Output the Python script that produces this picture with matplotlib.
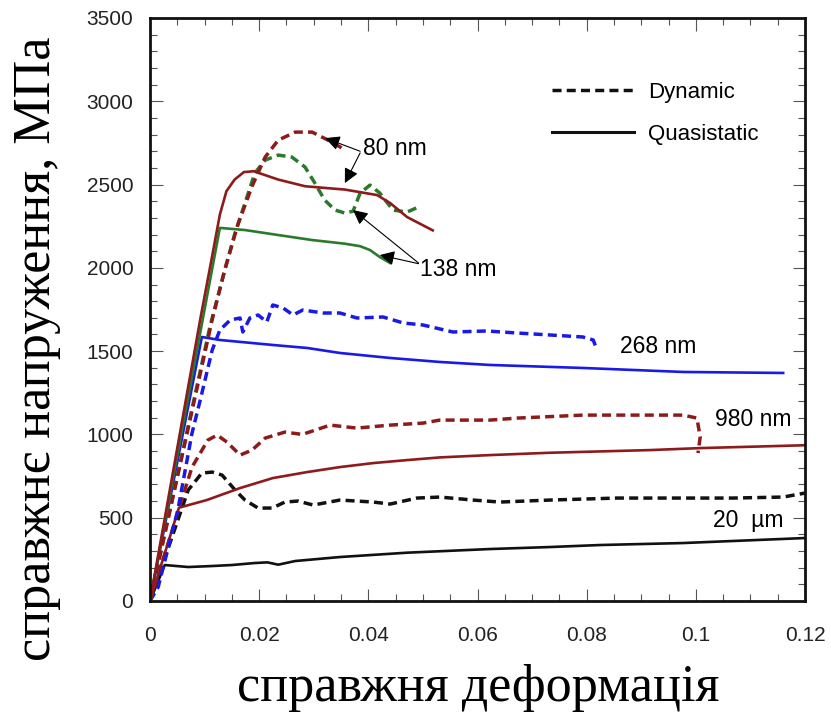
import numpy as np
import matplotlib
matplotlib.use("Agg")
import matplotlib.pyplot as plt
from matplotlib.lines import Line2D
from matplotlib.ticker import MultipleLocator, FixedLocator, FixedFormatter

# --- data (true strain, true stress MPa) ---
q80_e = [0, 0.0092, 0.0115, 0.0128, 0.0140, 0.0155, 0.0172, 0.0190, 0.0235, 0.0284,
         0.0320, 0.0357, 0.0416, 0.0440, 0.0471, 0.0518]
q80_s = [0, 1690, 2090, 2320, 2460, 2530, 2575, 2580, 2530, 2490,
         2480, 2470, 2437, 2389, 2305, 2225]

d80_e = [0, 0.0114, 0.0137, 0.0161, 0.0187, 0.0211, 0.0235, 0.0266, 0.0297, 0.0326, 0.0352]
d80_s = [0, 1690, 1990, 2260, 2490, 2665, 2767, 2815, 2815, 2767, 2719]

q138_e = [0, 0.0128, 0.0174, 0.0235, 0.0297, 0.0357, 0.0385, 0.0403, 0.0421, 0.0440]
q138_s = [0, 2240, 2227, 2197, 2167, 2145, 2130, 2107, 2065, 2029]

d138_e = [0, 0.0110, 0.0135, 0.0155, 0.0174, 0.0192, 0.0211, 0.0235, 0.0260, 0.0284,
          0.0302, 0.0320, 0.0339, 0.0357, 0.0372, 0.0385, 0.0403, 0.0421, 0.0445, 0.0471, 0.0495]
d138_s = [0, 1650, 1960, 2200, 2389, 2569, 2647, 2677, 2665, 2605,
          2509, 2407, 2347, 2329, 2340, 2449, 2497, 2449, 2347, 2335, 2370]

q268_e = [0, 0.0095, 0.0128, 0.0225, 0.0288, 0.0348, 0.0440, 0.0531, 0.0623, 0.0793, 0.0977, 0.1160]
q268_s = [0, 1585, 1567, 1537, 1519, 1489, 1459, 1435, 1417, 1399, 1375, 1369]

d268_e = [0, 0.0015, 0.0051, 0.0077, 0.0092, 0.0114, 0.0128, 0.0147, 0.0165, 0.0170,
          0.0183, 0.0198, 0.0214, 0.0225, 0.0244, 0.0262, 0.0280, 0.0317, 0.0348, 0.0379,
          0.0427, 0.0464, 0.0500, 0.0555, 0.0617, 0.0672, 0.0733, 0.0793, 0.0812, 0.0819]
d268_s = [0, 84, 546, 1008, 1206, 1507, 1627, 1687, 1699, 1615,
          1699, 1717, 1675, 1777, 1759, 1717, 1747, 1729, 1729, 1699,
          1705, 1669, 1657, 1615, 1621, 1609, 1597, 1585, 1567, 1507]

q980_e = [0, 0.0053, 0.0104, 0.0165, 0.0225, 0.0288, 0.0348, 0.0409, 0.0471, 0.0531,
          0.0623, 0.0733, 0.0916, 0.1008, 0.1200]
q980_s = [0, 560, 606, 678, 738, 774, 804, 828, 846, 862,
          876, 890, 906, 918, 935]

d980_e = [0, 0.0077, 0.0106, 0.0123, 0.0141, 0.0165, 0.0187, 0.0211, 0.0247, 0.0279,
          0.0330, 0.0379, 0.0440, 0.0500, 0.0531, 0.0623, 0.0672, 0.0793, 0.0916, 0.0977,
          0.1002, 0.1008, 0.1004]
d980_s = [0, 804, 966, 996, 954, 876, 906, 978, 1014, 1000,
          1056, 1038, 1056, 1068, 1086, 1086, 1098, 1116, 1116, 1116,
          1098, 984, 888]

q20_e = [0, 0.0027, 0.0070, 0.0114, 0.0150, 0.0192, 0.0215, 0.0235, 0.0266, 0.0348,
         0.0471, 0.0623, 0.0733, 0.0824, 0.0977, 0.1200]
q20_s = [0, 216, 204, 210, 216, 228, 232, 218, 240, 264,
         290, 312, 324, 336, 348, 378]

d20_e = [0, 0.0070, 0.0095, 0.0114, 0.0132, 0.0156, 0.0174, 0.0198, 0.0224, 0.0247,
         0.0271, 0.0299, 0.0348, 0.0409, 0.0440, 0.0489, 0.0531, 0.0592, 0.0641, 0.0733,
         0.0856, 0.0947, 0.1068, 0.1160, 0.1200]
d20_s = [0, 666, 768, 774, 756, 666, 606, 558, 558, 594,
         600, 576, 606, 594, 582, 618, 624, 606, 594, 606,
         618, 618, 618, 624, 648]

x_ticks = [0, 0.02, 0.04, 0.06, 0.08, 0.1, 0.12]
x_tick_labels = ['0', '0.02', '0.04', '0.06', '0.08', '0.1', '0.12']
y_ticks = [0, 500, 1000, 1500, 2000, 2500, 3000, 3500]

RED = '#8e1b1b'
GREEN = '#2b7a2b'
BLUE = '#1a1ae6'
BLACK = '#111111'
DASH = (0, (2.6, 1.5))

plt.rcParams['font.family'] = ['Liberation Sans', 'DejaVu Sans']

fig = plt.figure(figsize=(8.31, 7.17), dpi=100)
ax = fig.add_axes([150 / 831, 1 - 601 / 717, 655 / 831, 583 / 717])

# --- curves ---
ax.plot(q20_e, q20_s, color=BLACK, lw=1.9)
ax.plot(d20_e, d20_s, color=BLACK, lw=2.5, ls=DASH)
ax.plot(q980_e, q980_s, color=RED, lw=1.9)
ax.plot(d980_e, d980_s, color=RED, lw=2.5, ls=DASH)
ax.plot(q268_e, q268_s, color=BLUE, lw=1.9)
ax.plot(d268_e, d268_s, color=BLUE, lw=2.5, ls=DASH)
ax.plot(q138_e, q138_s, color=GREEN, lw=1.9)
ax.plot(d138_e, d138_s, color=GREEN, lw=2.5, ls=DASH)
ax.plot(q80_e, q80_s, color=RED, lw=1.9)
ax.plot(d80_e, d80_s, color=RED, lw=2.5, ls=DASH)

# --- annotations ---
arrow = dict(arrowstyle='-|>', color='black', lw=0.8, mutation_scale=22, shrinkA=0, shrinkB=0)
ax.annotate('', xy=(0.0321, 2779), xytext=(0.0385, 2700), arrowprops=arrow)
ax.annotate('', xy=(0.0357, 2509), xytext=(0.0385, 2690), arrowprops=arrow)
ax.text(0.0390, 2715, '80 nm', fontsize=16.5, ha='left', va='center')

ax.annotate('', xy=(0.0372, 2347), xytext=(0.0492, 2029), arrowprops=arrow)
ax.annotate('', xy=(0.0421, 2077), xytext=(0.0492, 2025), arrowprops=arrow)
ax.text(0.0495, 1990, '138 nm', fontsize=16.5, ha='left', va='center')

ax.text(0.0861, 1525, '268 nm', fontsize=16.5, ha='left', va='center')
ax.text(0.1035, 1090, '980 nm', fontsize=16.5, ha='left', va='center')
ax.text(0.1031, 482, '20  µm', fontsize=16.5, ha='left', va='center')

# --- legend ---
handles = [Line2D([], [], color=BLACK, lw=2.5, ls=DASH),
           Line2D([], [], color=BLACK, lw=2.2)]
ax.legend(handles, ['Dynamic', 'Quasistatic'], loc='upper left',
          bbox_to_anchor=(0.597, 0.91), frameon=False, fontsize=16,
          handlelength=3.7, handletextpad=0.6, labelspacing=0.95, borderpad=0)

# --- axes ---
ax.set_xlim(0, 0.12)
ax.set_ylim(0, 3500)
ax.xaxis.set_major_locator(FixedLocator(x_ticks))
ax.xaxis.set_major_formatter(FixedFormatter(x_tick_labels))
ax.xaxis.set_minor_locator(MultipleLocator(0.005))
ax.yaxis.set_major_locator(FixedLocator(y_ticks))
ax.yaxis.set_minor_locator(MultipleLocator(100))
ax.tick_params(which='both', direction='in', top=True, right=True, width=0.8, color='#555555')
ax.tick_params(which='major', length=9, labelsize=15, pad=12, labelcolor='#222222')
ax.tick_params(axis='x', which='major', pad=18)
ax.tick_params(which='minor', length=5)
for sp in ax.spines.values():
    sp.set_linewidth(2.0)
    sp.set_color('#111111')

fig.text(0.045, 0.513, 'справжнє напруження, МПа', rotation=90, ha='center', va='center',
         fontsize=37.5, family='Liberation Serif')
fig.text(0.575, 0.040, 'справжня деформація', ha='center', va='center',
         fontsize=37.5, family='Liberation Serif')

fig.savefig('out.png', dpi=100)
